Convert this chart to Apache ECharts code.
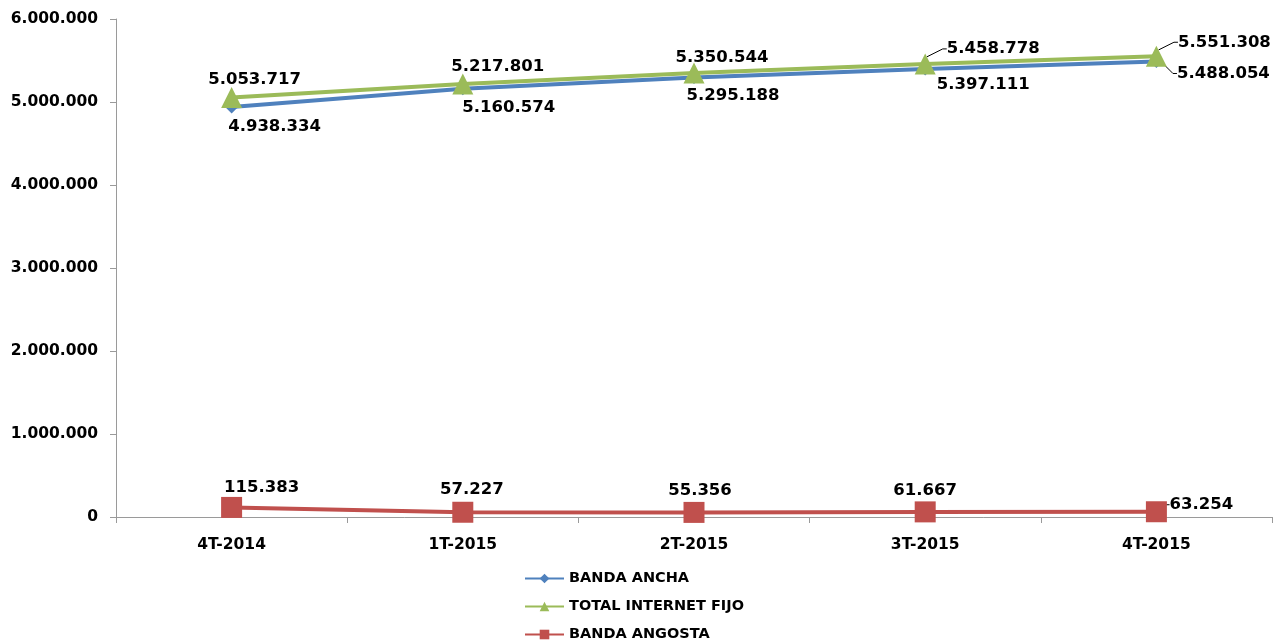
<!DOCTYPE html>
<html>
<head>
<meta charset="utf-8">
<script src="https://cdn.jsdelivr.net/npm/echarts@6/dist/echarts.min.js"></script>
<style>html,body{margin:0;padding:0;background:#fff}#c{width:1282px;height:644px}</style>
</head>
<body>
<div id="c"></div>
<script>
const categories = ['4T-2014', '1T-2015', '2T-2015', '3T-2015', '4T-2015'];
const bandaAncha = [4938334, 5160574, 5295188, 5397111, 5488054];
const totalInternetFijo = [5053717, 5217801, 5350544, 5458778, 5551308];
const bandaAngosta = [115383, 57227, 55356, 61667, 63254];
const yTicks = [0, 1000000, 2000000, 3000000, 4000000, 5000000, 6000000];

function fmt(v) {
  return String(Math.round(v)).replace(/\B(?=(\d{3})+(?!\d))/g, '.');
}

const FONT = 'DejaVu Sans';
// label displacement from the marker centre, per series / point
const offsets = [
  [[43, 20], [46, 19], [39, 18], [58, 16], [67, 12]],
  [[23, -18], [35, -17], [28, -15], [68, -15], [68, -14]],
  [[30, -20], [9, -23], [6, -22], [0, -21], [45, -7]]
];
// which labels have a leader line
const leaders = [
  [false, false, false, false, true],
  [false, false, false, true, true],
  [false, false, false, false, true]
];

function build(values, s) {
  return values.map((v, i) => ({
    value: v,
    labelLine: { show: leaders[s][i], length2: 4, lineStyle: { color: '#000', width: 1 } }
  }));
}

const labelStyle = {
  show: true,
  position: 'inside',
  formatter: p => fmt(p.value),
  fontFamily: FONT,
  fontWeight: 'bold',
  fontSize: 16.5,
  color: '#000'
};

const chart = echarts.init(document.getElementById('c'));
chart.setOption({
  animation: false,
  grid: { left: 116, right: 10, top: 19, bottom: 127 },
  legend: {
    orient: 'vertical',
    left: 524,
    top: 571,
    padding: 0,
    itemWidth: 39,
    itemHeight: 12,
    itemGap: 13,
    textStyle: { fontFamily: FONT, fontWeight: 'bold', fontSize: 14.5, color: '#000' },
    data: ['BANDA ANCHA', 'TOTAL INTERNET FIJO', 'BANDA ANGOSTA']
  },
  xAxis: {
    type: 'category',
    data: categories,
    boundaryGap: true,
    axisLine: { lineStyle: { color: '#9a9a9a', width: 1 } },
    axisTick: { show: true, length: 6, alignWithLabel: false, lineStyle: { color: '#9a9a9a' } },
    axisLabel: { margin: 20, fontFamily: FONT, fontWeight: 'bold', fontSize: 15.5, color: '#000' }
  },
  yAxis: {
    type: 'value',
    min: 0,
    max: 6000000,
    interval: 1000000,
    splitLine: { show: false },
    axisLine: { show: true, lineStyle: { color: '#9a9a9a', width: 1 } },
    axisTick: { show: true, length: 6, lineStyle: { color: '#9a9a9a' } },
    axisLabel: {
      margin: 18,
      fontFamily: FONT, fontWeight: 'bold', fontSize: 15.5, color: '#000',
      formatter: v => yTicks.includes(v) ? fmt(v) : ''
    }
  },
  labelLayout: function (p) {
    const o = offsets[p.seriesIndex][p.dataIndex];
    return { dx: o[0], dy: o[1] };
  },
  series: [
    {
      name: 'BANDA ANCHA',
      type: 'line',
      data: build(bandaAncha, 0),
      symbol: 'diamond',
      symbolSize: 13,
      lineStyle: { color: '#4F81BD', width: 4 },
      itemStyle: { color: '#4F81BD' },
      label: labelStyle,
      z: 2
    },
    {
      name: 'TOTAL INTERNET FIJO',
      type: 'line',
      data: build(totalInternetFijo, 1),
      symbol: 'triangle',
      symbolSize: 21,
      lineStyle: { color: '#9BBB59', width: 4 },
      itemStyle: { color: '#9BBB59' },
      label: labelStyle,
      z: 3
    },
    {
      name: 'BANDA ANGOSTA',
      type: 'line',
      data: build(bandaAngosta, 2),
      symbol: 'rect',
      symbolSize: 21,
      lineStyle: { color: '#C0504D', width: 4 },
      itemStyle: { color: '#C0504D' },
      label: labelStyle,
      z: 4
    }
  ]
});
</script>
</body>
</html>
